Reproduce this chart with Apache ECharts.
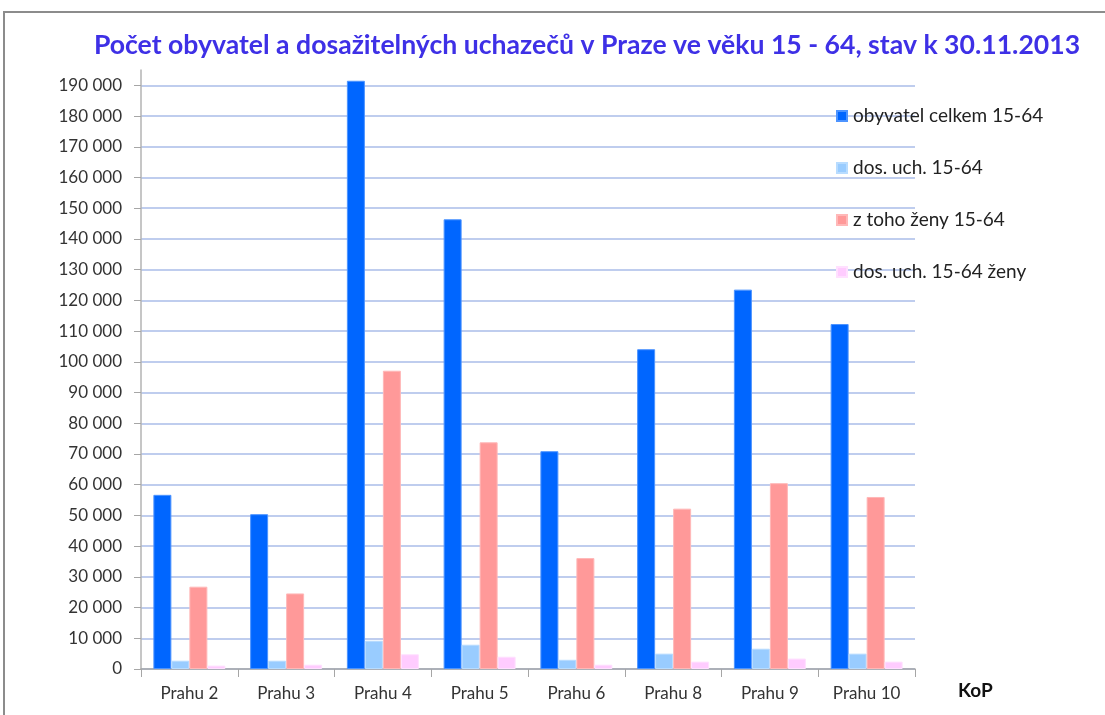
<!DOCTYPE html>
<html>
<head>
<meta charset="utf-8">
<script src="https://cdn.jsdelivr.net/npm/echarts@6/dist/echarts.min.js"></script>
<style>
  html, body { margin: 0; padding: 0; background: #fff; overflow: hidden; }
  #chart01 { width: 1105px; height: 715px; }
  #ramecek { position: absolute; left: 3px; top: 11px; width: 1300px; height: 900px;
             border: 2px solid #8c8c8c; pointer-events: none; }
</style>
</head>
<body>
<div id="chart01"></div>
<div id="ramecek"></div>
<script>
// kategorie (KoP)
var kategorie = ['Prahu 2', 'Prahu 3', 'Prahu 4', 'Prahu 5', 'Prahu 6', 'Prahu 8', 'Prahu 9', 'Prahu 10'];
var nazvyRad = ['obyvatel celkem 15-64', 'dos. uch. 15-64', 'z toho ženy 15-64', 'dos. uch. 15-64 ženy'];

// hodnoty
var obyvatelCelkem = [56700, 50400, 191500, 146400, 70900, 104100, 123500, 112300];
var dosUch = [2700, 2700, 9200, 7900, 3000, 5000, 6600, 5000];
var zenyCelkem = [26800, 24600, 97100, 73800, 36100, 52200, 60500, 56000];
var dosUchZeny = [1100, 1400, 4800, 4000, 1400, 2400, 3400, 2400];

var barvy = ['#0066FF', '#99CCFF', '#FF9999', '#FFCCFF'];
var okraje = ['#4d94ff', '#b8dcff', '#ffb8b8', '#ffe0ff'];

function rada(i, data) {
  return {
    name: nazvyRad[i],
    type: 'bar',
    data: data,
    barWidth: 18,
    barGap: '0%',
    itemStyle: { color: barvy[i], borderColor: okraje[i], borderWidth: 1 }
  };
}

var option = {
  animation: false,
  color: barvy,
  title: {
    text: 'Počet obyvatel a dosažitelných uchazečů v Praze ve věku 15 - 64, stav k 30.11.2013',
    left: 582,
    textAlign: 'center',
    top: 27,
    textStyle: { color: '#3e30e6', fontFamily: 'Lato', fontWeight: 'bold', fontSize: 26.6 }
  },
  legend: {
    orient: 'vertical',
    left: 831,
    top: 101,
    itemWidth: 10,
    itemHeight: 10,
    itemGap: 32,
    icon: 'rect',
    textStyle: { color: '#222', fontFamily: 'Lato', fontSize: 19, lineHeight: 20, padding: [0, 0, 0, 1] },
    data: nazvyRad
  },
  grid: { left: 141, right: 190, top: 70, bottom: 46 },
  xAxis: {
    type: 'category',
    data: kategorie,
    name: 'KoP',
    nameLocation: 'end',
    nameGap: 43,
    nameTextStyle: { color: '#111', fontFamily: 'Lato', fontWeight: 'bold', fontSize: 19,
                     verticalAlign: 'top', padding: [12, 0, 0, 0] },
    axisLine: { lineStyle: { color: '#a6a6a6', width: 1.5 } },
    axisTick: { show: true, length: 8, lineStyle: { color: '#a6a6a6' } },
    axisLabel: { color: '#333', fontFamily: 'Lato', fontSize: 17, margin: 16 }
  },
  yAxis: {
    type: 'value',
    min: 0,
    max: 195000,
    interval: 10000,
    axisLine: { show: true, lineStyle: { color: '#b3b3b3', width: 1.5 } },
    axisTick: { show: true, length: 7, lineStyle: { color: '#a6a6a6' } },
    axisLabel: {
      color: '#333', fontFamily: 'Lato', fontSize: 17, margin: 19, showMaxLabel: false,
      formatter: function (v) { return String(v).replace(/\B(?=(\d{3})+(?!\d))/g, ' '); }
    },
    splitLine: { show: true, showMaxLine: false, lineStyle: { color: '#bfcdee', width: 2 } }
  },
  series: [
    rada(0, obyvatelCelkem),
    rada(1, dosUch),
    rada(2, zenyCelkem),
    rada(3, dosUchZeny)
  ]
};
var myChart = echarts.init(document.getElementById('chart01'));
myChart.setOption(option);
</script>
</body>
</html>
